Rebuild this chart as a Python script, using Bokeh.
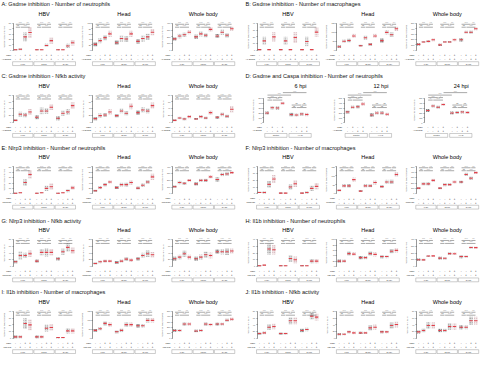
from bokeh.plotting import figure
from bokeh.models import Range1d, LinearAxis, FixedTicker, ColumnDataSource
from bokeh.embed import file_html
from bokeh.resources import INLINE
from bokeh.core.properties import value

FONT = "Liberation Sans"
RED = "#e0404a"

# ---------------- categories / labels ----------------
TIMES = ["6 hpi", "12 hpi", "24 hpi"]
SUBS = ["HBV", "Head", "Whole body"]
D_SUBS = ["6 hpi", "12 hpi", "24 hpi"]
D_BOXES = ["Control", "YVAD"]
YL_NEU = "Number of neutrophils"
YL_MAC = "Number of macrophages"
YL_NFKB = "Nfkb activity (a.u.)"

SIGN_MSU_A = ["-", "-", "+", "+"]
SIGN_INH_A = ["-", "+", "-", "+"]
SIGN_MSU_B = ["-", "+", "-", "+"]
SIGN_INH_B = ["-", "-", "+", "+"]

TICKS_40 = [0, 10, 20, 30, 40]
TICKS_50 = [0, 10, 20, 30, 40, 50]
TICKS_80 = [0, 20, 40, 60, 80]
TICKS_100 = [0, 20, 40, 60, 80, 100]
TICKS_150 = [0, 50, 100, 150]
TICKS_400 = [0, 100, 200, 300, 400]
TICKS_500 = [0, 100, 200, 300, 400, 500]

# ---------------- values (group means and spreads) ----------------
A_HBV_MEAN = [1, 2, 25, 33, 1, 1, 9, 18, 1, 1, 8, 14]
A_HBV_SD = [1, 2, 8, 10, 1, 1, 3, 6, 1, 1, 4, 5]
A_HEAD_MEAN = [22, 36, 47, 61, 28, 44, 42, 61, 33, 44, 50, 67]
A_HEAD_SD = [8, 10, 10, 12, 8, 12, 10, 12, 8, 12, 12, 12]
A_WB_MEAN = [170, 212, 232, 268, 200, 244, 224, 312, 212, 268, 224, 320]
A_WB_SD = [25, 35, 30, 30, 30, 40, 30, 35, 30, 40, 35, 30]

B_HBV_MEAN = [1, 14, 1, 20, 1, 14, 1, 19, 1, 13, 1, 27]
B_HBV_SD = [1, 6, 1, 7, 1, 6, 1, 8, 1, 7, 1, 7]
B_HEAD_MEAN = [20, 50, 55, 80, 25, 70, 33, 80, 54, 100, 87, 120]
B_HEAD_SD = [6, 10, 10, 12, 6, 12, 8, 12, 12, 12, 12, 12]
B_WB_MEAN = [110, 155, 165, 195, 100, 155, 155, 195, 195, 335, 335, 400]
B_WB_SD = [20, 20, 20, 25, 20, 20, 20, 25, 30, 30, 30, 25]

C_HBV_MEAN = [5, 23, 21, 30, 14, 33, 33, 44, 11, 26, 30, 49]
C_HBV_SD = [3, 8, 7, 9, 6, 10, 8, 8, 6, 8, 8, 10]
C_HEAD_MEAN = [10, 19, 21, 30, 19, 33, 26, 47, 28, 36, 33, 49]
C_HEAD_SD = [5, 7, 6, 8, 5, 7, 6, 9, 7, 8, 7, 9]
C_WB_MEAN = [5, 12, 9, 16, 9, 16, 12, 28, 14, 23, 17, 38]
C_WB_SD = [3, 4, 4, 5, 3, 5, 4, 7, 4, 6, 5, 10]

D_6_MEAN = [200, 305, 300, 395, 170, 160, 180, 170]
D_6_SD = [30, 35, 35, 30, 35, 30, 35, 35]
D_12_MEAN = [220, 315, 325, 380, 160, 200, 200, 175]
D_12_SD = [30, 35, 35, 35, 35, 35, 35, 35]
D_24_MEAN = [250, 340, 315, 370, 200, 210, 220, 210]
D_24_SD = [30, 30, 30, 30, 30, 30, 30, 30]

E_HBV_MEAN = [1, 2, 21, 36, 1, 2, 10, 13, 1, 2, 6, 11]
E_HBV_SD = [1, 1, 6, 8, 1, 1, 5, 6, 1, 1, 3, 4]
E_HEAD_MEAN = [11, 23, 34, 44, 23, 34, 34, 42, 21, 32, 44, 63]
E_HEAD_SD = [4, 6, 6, 6, 5, 7, 7, 8, 5, 7, 7, 12]
E_WB_MEAN = [105, 168, 156, 200, 148, 200, 200, 252, 212, 288, 296, 316]
E_WB_SD = [20, 25, 20, 20, 25, 25, 25, 25, 30, 25, 25, 20]

F_HBV_MEAN = [2, 2, 14, 22, 1, 1, 10, 15, 1, 2, 8, 11]
F_HBV_SD = [1, 2, 5, 6, 1, 1, 4, 5, 1, 2, 4, 5]
F_HEAD_MEAN = [19, 44, 44, 79, 15, 44, 44, 63, 40, 66, 66, 108]
F_HEAD_SD = [5, 10, 10, 12, 5, 10, 8, 12, 8, 12, 12, 14]
F_WB_MEAN = [105, 185, 185, 250, 105, 170, 170, 220, 220, 360, 290, 395]
F_WB_SD = [20, 30, 30, 30, 20, 30, 25, 30, 25, 30, 30, 25]

G_HBV_MEAN = [14, 33, 33, 38, 16, 42, 42, 42, 23, 44, 57, 47]
G_HBV_SD = [4, 12, 8, 10, 5, 10, 12, 10, 5, 10, 12, 10]
G_HEAD_MEAN = [9, 14, 16, 16, 12, 16, 22, 19, 23, 33, 38, 35]
G_HEAD_SD = [3, 4, 4, 4, 4, 5, 6, 5, 5, 8, 10, 8]
G_WB_MEAN = [23, 28, 38, 28, 23, 28, 35, 33, 44, 44, 44, 46]
G_WB_SD = [6, 7, 9, 7, 6, 8, 9, 9, 7, 8, 10, 8]

H_HBV_MEAN = [1, 2, 26, 25, 1, 1, 12, 10, 1, 1, 8, 8]
H_HBV_SD = [1, 1, 8, 7, 1, 1, 5, 5, 1, 1, 3, 3]
H_HEAD_MEAN = [20, 20, 48, 46, 33, 33, 48, 45, 37, 37, 57, 60]
H_HEAD_SD = [6, 6, 8, 7, 6, 6, 8, 8, 6, 6, 8, 8]
H_WB_MEAN = [100, 98, 156, 158, 124, 122, 192, 190, 148, 150, 284, 282]
H_WB_SD = [20, 18, 15, 15, 20, 20, 18, 18, 25, 22, 15, 15]

I_HBV_MEAN = [2, 2, 22, 20, 2, 2, 15, 16, 1, 1, 11, 11]
I_HBV_SD = [2, 2, 8, 8, 2, 2, 5, 5, 1, 1, 4, 4]
I_HEAD_MEAN = [44, 53, 83, 76, 36, 44, 76, 76, 70, 70, 100, 100]
I_HEAD_SD = [8, 10, 12, 12, 8, 10, 12, 12, 10, 10, 12, 12]
I_WB_MEAN = [145, 145, 265, 265, 135, 145, 265, 255, 265, 265, 335, 355]
I_WB_SD = [25, 25, 30, 30, 25, 25, 30, 30, 25, 25, 30, 30]

J_HBV_MEAN = [14, 16, 33, 35, 14, 14, 52, 52, 23, 26, 66, 63]
J_HBV_SD = [4, 4, 8, 8, 4, 4, 10, 10, 5, 5, 10, 10]
J_HEAD_MEAN = [12, 12, 19, 16, 16, 16, 31, 33, 19, 19, 38, 41]
J_HEAD_SD = [3, 3, 4, 4, 3, 3, 8, 8, 4, 4, 9, 9]
J_WB_MEAN = [19, 23, 38, 38, 23, 23, 35, 35, 33, 33, 52, 52]
J_WB_SD = [5, 6, 10, 10, 5, 5, 10, 10, 6, 6, 12, 12]

PANELS = [
    ("A: Gsdme inhibition - Number of neutrophils", 0, 0, YL_NEU,
     [(A_HBV_MEAN, A_HBV_SD, TICKS_50), (A_HEAD_MEAN, A_HEAD_SD, TICKS_100), (A_WB_MEAN, A_WB_SD, TICKS_400)],
     SIGN_MSU_A, SIGN_INH_A, "Ac-DMLD"),
    ("B: Gsdme inhibition - Number of macrophages", 0, 1, YL_MAC,
     [(B_HBV_MEAN, B_HBV_SD, TICKS_40), (B_HEAD_MEAN, B_HEAD_SD, TICKS_150), (B_WB_MEAN, B_WB_SD, TICKS_500)],
     SIGN_MSU_B, SIGN_INH_B, "Ac-DMLD"),
    ("C: Gsdme inhibition - Nfkb activity", 1, 0, YL_NFKB,
     [(C_HBV_MEAN, C_HBV_SD, TICKS_80), (C_HEAD_MEAN, C_HEAD_SD, TICKS_80), (C_WB_MEAN, C_WB_SD, TICKS_80)],
     SIGN_MSU_A, SIGN_INH_A, "Ac-DMLD"),
    ("E: Nlrp3 inhibition - Number of neutrophils", 2, 0, YL_NEU,
     [(E_HBV_MEAN, E_HBV_SD, TICKS_50), (E_HEAD_MEAN, E_HEAD_SD, TICKS_100), (E_WB_MEAN, E_WB_SD, TICKS_400)],
     SIGN_MSU_A, SIGN_INH_A, "MCC950"),
    ("F: Nlrp3 inhibition - Number of macrophages", 2, 1, YL_MAC,
     [(F_HBV_MEAN, F_HBV_SD, TICKS_40), (F_HEAD_MEAN, F_HEAD_SD, TICKS_150), (F_WB_MEAN, F_WB_SD, TICKS_500)],
     SIGN_MSU_A, SIGN_INH_A, "MCC950"),
    ("G: Nlrp3 inhibition - Nfkb activity", 3, 0, YL_NFKB,
     [(G_HBV_MEAN, G_HBV_SD, TICKS_80), (G_HEAD_MEAN, G_HEAD_SD, TICKS_80), (G_WB_MEAN, G_WB_SD, TICKS_80)],
     SIGN_MSU_A, SIGN_INH_A, "MCC950"),
    ("H: Il1b inhibition - Number of neutrophils", 3, 1, YL_NEU,
     [(H_HBV_MEAN, H_HBV_SD, TICKS_40), (H_HEAD_MEAN, H_HEAD_SD, TICKS_100), (H_WB_MEAN, H_WB_SD, TICKS_400)],
     SIGN_MSU_A, SIGN_INH_A, "il1b MO"),
    ("I: Il1b inhibition - Number of macrophages", 4, 0, YL_MAC,
     [(I_HBV_MEAN, I_HBV_SD, TICKS_40), (I_HEAD_MEAN, I_HEAD_SD, TICKS_150), (I_WB_MEAN, I_WB_SD, TICKS_500)],
     SIGN_MSU_A, SIGN_INH_A, "il1b MO"),
    ("J: Il1b inhibition - Nfkb activity", 4, 1, YL_NFKB,
     [(J_HBV_MEAN, J_HBV_SD, TICKS_80), (J_HEAD_MEAN, J_HEAD_SD, TICKS_80), (J_WB_MEAN, J_WB_SD, TICKS_80)],
     SIGN_MSU_A, SIGN_INH_A, "il1b MO"),
]
D_PANEL = ("D: Gsdme and Caspa inhibition - Number of neutrophils", 1, 1, YL_NEU,
           [(D_6_MEAN, D_6_SD, TICKS_500), (D_12_MEAN, D_12_SD, TICKS_500), (D_24_MEAN, D_24_SD, TICKS_500)],
           SIGN_MSU_B, SIGN_INH_B, "Ac-DMLD")

# ---------------- layout (reference-pixel canvas) ----------------
ROW_T = [4, 79, 154, 230, 305]
COL_X0 = [0, 252]
AX_OFF = [13, 95.5, 177.5]
D_AX_OFF = [20, 103, 186]
GROUP_COLORS = ["#303030", "#9a9a9a", "#767676", "#c79aa0"]
BR_NORMAL = [(0, 1, 0.86, "ns"), (1, 3, 0.86, "****"), (0, 2, 0.97, "****"), (2, 3, 0.97, "***")]
BR_D = [(0, 1, 0.92, "**"), (1, 3, 0.92, "****"), (0, 2, 1.02, "****"), (2, 3, 1.02, "*"),
        (4, 5, 0.62, "ns"), (5, 7, 0.62, "ns"), (4, 6, 0.72, "ns"), (6, 7, 0.72, "ns"),
        (0, 4, 1.12, "****"), (3, 7, 1.22, "****")]

p = figure(width=484, height=354, x_range=Range1d(0, 500), y_range=Range1d(370, 0),
           output_backend="svg", toolbar_location=None, min_border=0,
           x_axis_location=None, y_axis_location=None)
p.grid.visible = False
p.outline_line_color = None
p.background_fill_color = "white"

main_text = {}


def add_text(x, y, t, size, align="center", color="#222222"):
    key = (size, align, color)
    d = main_text.setdefault(key, dict(x=[], y=[], t=[]))
    d["x"].append(x)
    d["y"].append(y)
    d["t"].append(t)


box_l, box_r, box_t, box_b = [], [], [], []
counter = [0]


def subplot(t, axx, xs, means, sds, ticks, ylabel, brackets, top_off, bot_off):
    counter[0] += 1
    name = "s%d" % counter[0]
    ymax = ticks[-1]
    T = t + top_off
    B = t + bot_off
    p.extra_y_ranges[name] = Range1d(start=ymax * (B - 370) / (B - T), end=ymax * B / (B - T))
    n = len(means)
    lo = [max(m - s, 0) for m, s in zip(means, sds)]
    hi = [m + s for m, s in zip(means, sds)]
    cols = [GROUP_COLORS[i % 4] for i in range(n)]
    src = ColumnDataSource(dict(x=xs, lo=lo, hi=hi, m=means, c=cols))
    p.vbar(x="x", bottom="lo", top="hi", width=3.8, fill_color="c", fill_alpha=0.18,
           line_color=None, hatch_pattern="ring", hatch_color="c", hatch_scale=2.2,
           hatch_weight=0.5, hatch_alpha=0.85, source=src, y_range_name=name)
    p.scatter(x="x", y="m", marker="dash", size=3.4, line_color=RED, line_width=1.1,
              source=src, y_range_name=name)
    bx0, bx1, by, bxt, byt, bl = [], [], [], [], [], []
    for (i, j, lvl, lab) in brackets:
        bx0.append(xs[i] + 0.3)
        bx1.append(xs[j] - 0.3)
        by.append(lvl * ymax)
        bxt.append((xs[i] + xs[j]) / 2)
        byt.append((lvl + 0.03) * ymax)
        bl.append(lab)
    p.segment(x0=bx0, x1=bx1, y0=by, y1=by, line_color="#555555", line_width=0.5,
              y_range_name=name)
    p.text(x=bxt, y=byt, text=bl, text_font_size="2px", text_align="center",
           text_baseline="bottom", text_color="#444444", text_font=value(FONT),
           y_range_name=name)
    ax = LinearAxis(y_range_name=name, fixed_location=axx, bounds=(0, ymax),
                    ticker=FixedTicker(ticks=ticks), axis_label=ylabel,
                    axis_label_text_font_size="2.2px", axis_label_text_font_style="normal",
                    axis_label_text_font=FONT, axis_label_standoff=1,
                    major_label_text_font_size="2px", major_label_text_font=FONT,
                    major_label_standoff=1, major_tick_out=1, major_tick_in=0,
                    minor_tick_out=0, minor_tick_in=0, axis_line_width=0.5,
                    major_tick_line_width=0.5, axis_line_color="#333333",
                    major_tick_line_color="#333333")
    p.add_layout(ax, "left")


def draw_panel(panel, is_d=False):
    title, row, col, ylabel, subs, msu, inh, inh_label = panel
    t = ROW_T[row]
    x0 = COL_X0[col]
    add_text(x0 + 1, t, title, "5.6px", "left", "#111111")
    for si, (means, sds, ticks) in enumerate(subs):
        if is_d:
            axx = x0 + D_AX_OFF[si]
            xs = [axx + 3.5 + b * 25 + g * 5.3 for b in range(2) for g in range(4)]
            subplot(t, axx, xs, means, sds, ticks, ylabel, BR_D, 23, 49)
            add_text(axx + 38, t + 10, D_SUBS[si], "5.5px", "center", "#000000")
            for b in range(2):
                l = axx + 1 + b * 25
                box_l.append(l); box_r.append(l + 23)
                box_t.append(t + 60); box_b.append(t + 64)
                add_text(l + 11.5, t + 62, D_BOXES[b], "2px", "center", "#333333")
            groups = 2
        else:
            axx = x0 + AX_OFF[si]
            xs = [axx + 2.5 + k * 22 + g * 5 for k in range(3) for g in range(4)]
            subplot(t, axx, xs, means, sds, ticks, ylabel,
                    [(i + 4 * k, j + 4 * k, lv, lb) for k in range(3) for (i, j, lv, lb) in BR_NORMAL],
                    20, 48)
            add_text(axx + 32, t + 10, SUBS[si], "5.5px", "center", "#000000")
            for k in range(3):
                l = axx + k * 22 - 0.5
                box_l.append(l); box_r.append(l + 21)
                box_t.append(t + 60); box_b.append(t + 64)
                add_text(l + 10.5, t + 62, TIMES[k], "2px", "center", "#333333")
            groups = 3
        for gi in range(groups * 4):
            add_text(xs[gi], t + 53, msu[gi % 4], "2.6px", "center", "#222222")
            add_text(xs[gi], t + 57, inh[gi % 4], "2.6px", "center", "#222222")
        add_text(axx - 2, t + 53, "MSU", "2.2px", "right", "#222222")
        add_text(axx - 2, t + 57, inh_label, "2.2px", "right", "#222222")


for pan in PANELS:
    draw_panel(pan)
draw_panel(D_PANEL, is_d=True)

p.quad(left=box_l, right=box_r, top=box_t, bottom=box_b, fill_color=None,
       line_color="#9a9a9a", line_width=0.5)

for (size, align, color), d in main_text.items():
    p.text(x=d["x"], y=d["y"], text=d["t"], text_font_size=size, text_align=align,
           text_baseline="middle", text_color=color, text_font=value(FONT))

open("out.html", "w").write(file_html(p, INLINE))
